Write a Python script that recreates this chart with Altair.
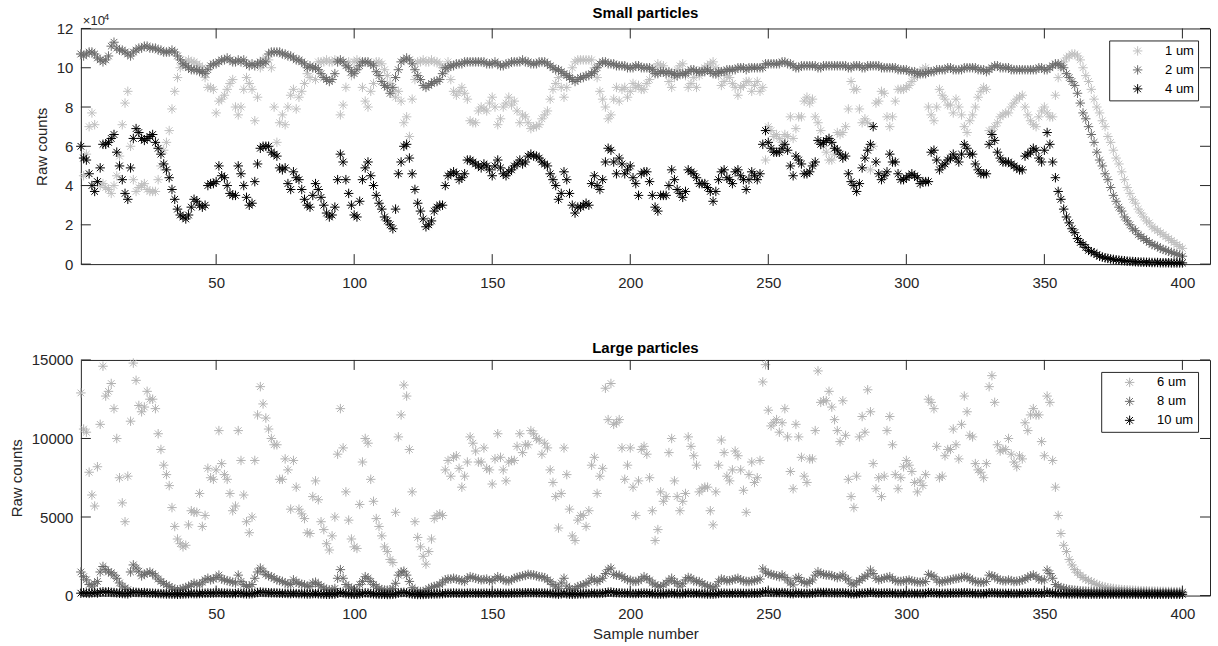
import altair as alt
import pandas as pd

FONT = "Liberation Sans"
AX = "#262626"
STAR = "M0,-1L0,1M-1,0L1,0M-0.7,-0.7L0.7,0.7M-0.7,0.7L0.7,-0.7"

# ---------------- data ----------------
SAMPLES = list(range(1, 401))

# Small particles, in thousands of counts
UM1 = [
    107, 45, 56, 70, 77, 71, 42, 40, 41, 39,
    38, 36, 40, 45, 55, 71, 82, 88, 60, 43,
    37, 39, 40, 41, 38, 37, 37, 37, 43, 50,
    58, 62, 68, 79, 88, 95, 100, 102, 103, 104,
    103, 103, 102, 101, 100, 95, 90, 90, 89, 77,
    83, 84, 86, 89, 92, 94, 80, 76, 80, 89,
    95, 92, 89, 73, 85, 100, 104, 105, 104, 100,
    80, 62, 72, 76, 71, 80, 86, 89, 79, 85,
    88, 92, 97, 95, 100, 94, 103, 103, 103, 104,
    103, 103, 104, 103, 76, 81, 90, 103, 96, 103,
    104, 103, 90, 83, 80, 88, 92, 103, 103, 102,
    99, 96, 92, 88, 85, 88, 83, 72, 75, 65,
    84, 94, 103, 103, 104, 103, 103, 104, 103, 103,
    102, 100, 98, 103, 94, 88, 86, 88, 90, 87,
    84, 73, 72, 72, 78, 80, 79, 78, 82, 85,
    80, 71, 74, 80, 82, 85, 81, 83, 78, 72,
    76, 75, 72, 69, 70, 70, 71, 74, 76, 78,
    84, 89, 92, 95, 90, 85, 90, 96, 100, 103,
    104, 104, 104, 104, 104, 104, 100, 95, 88, 84,
    80, 74, 76, 84, 90, 83, 89, 90, 85, 88,
    92, 90, 91, 89, 89, 92, 94, 98, 100, 102,
    101, 101, 98, 93, 90, 95, 99, 101, 102, 96,
    90, 92, 95, 90, 96, 99, 100, 101, 102, 103,
    100, 96, 91, 93, 96, 95, 92, 90, 86, 90,
    91, 93, 93, 88, 91, 93, 88, 90, 53, 70,
    68, 65, 66, 64, 62, 66, 65, 75, 64, 69,
    75, 75, 83, 85, 82, 84, 75, 72, 68, 60,
    57, 53, 53, 56, 67, 66, 67, 70, 79, 93,
    89, 89, 79, 72, 74, 72, 48, 60, 82, 83,
    88, 87, 75, 70, 75, 83, 89, 89, 89, 90,
    91, 93, 95, 96, 98, 99, 100, 80, 76, 73,
    80, 89, 86, 84, 81, 81, 77, 84, 80, 76,
    70, 67, 73, 76, 80, 85, 88, 90, 89, 68,
    68, 70, 72, 75, 76, 77, 77, 80, 82, 84,
    85, 86, 80, 76, 73, 71, 70, 75, 78, 80,
    77, 75, 75, 86, 95, 100, 103, 105, 106, 107,
    107, 106, 104, 100, 96, 93, 89, 84, 80, 77,
    73, 70, 65, 62, 58, 54, 51, 47, 43, 39,
    36, 33, 31, 28, 26, 24, 22, 21, 19, 18,
    17, 16, 15, 14, 13, 12, 11, 10, 9, 8,
]

UM2 = [
    107, 106, 107, 108, 108, 107, 105, 104, 103, 104,
    106, 111, 113, 110, 109, 109, 108, 107, 106, 108,
    109, 110, 110, 111, 111, 110, 110, 110, 109, 109,
    108, 108, 108, 109, 108, 106, 104, 102, 101, 100,
    99, 99, 99, 98, 98, 97, 99, 101, 102, 102,
    103, 104, 104, 105, 104, 103, 103, 104, 103, 104,
    102, 101, 102, 101, 102, 103, 102, 103, 107, 108,
    108, 108, 108, 107, 107, 106, 106, 105, 104, 104,
    103, 102, 100, 101, 100, 100, 99, 97, 95, 94,
    93, 94, 97, 103, 104, 103, 101, 100, 98, 97,
    99, 101, 103, 103, 103, 102, 101, 98, 96, 93,
    91, 90, 87, 90, 95, 99, 103, 104, 105, 104,
    102, 99, 96, 94, 91, 90, 91, 92, 93, 93,
    94, 97, 100, 100, 101, 101, 102, 102, 102, 103,
    103, 103, 103, 103, 103, 103, 103, 102, 102, 102,
    103, 102, 101, 101, 102, 102, 103, 103, 103, 103,
    104, 103, 103, 102, 102, 102, 103, 103, 103, 102,
    101, 100, 99, 99, 98, 97, 96, 95, 94, 93,
    94, 95, 95, 96, 96, 97, 98, 100, 102, 103,
    103, 102, 102, 102, 101, 101, 101, 101, 100, 100,
    100, 101, 101, 100, 100, 100, 100, 99, 97, 97,
    98, 98, 97, 98, 97, 97, 96, 97, 97, 97,
    98, 99, 99, 98, 98, 98, 98, 99, 98, 97,
    97, 98, 98, 98, 99, 99, 99, 99, 100, 100,
    100, 99, 100, 100, 100, 100, 100, 100, 102, 102,
    102, 102, 102, 102, 103, 103, 102, 102, 101, 100,
    100, 101, 101, 101, 101, 101, 101, 100, 100, 101,
    101, 101, 101, 101, 101, 101, 101, 101, 100, 100,
    101, 101, 101, 100, 100, 101, 101, 101, 101, 101,
    100, 100, 100, 100, 100, 100, 99, 99, 99, 99,
    98, 98, 98, 97, 97, 97, 97, 98, 98, 98,
    99, 99, 99, 99, 100, 100, 99, 99, 99, 99,
    100, 100, 100, 100, 100, 99, 99, 99, 98, 99,
    100, 101, 101, 100, 100, 100, 100, 99, 99, 99,
    99, 99, 99, 99, 99, 99, 99, 100, 100, 99,
    99, 100, 101, 102, 102, 101, 100, 97, 95, 93,
    91, 87, 82, 77, 74, 70, 66, 62, 57, 53,
    50, 46, 43, 39, 35, 32, 29, 27, 24, 22,
    20, 18, 17, 15, 14, 13, 12, 11, 10, 9.5,
    9, 8, 7.5, 7, 6.5, 6, 5.5, 5, 4.5, 4,
]

UM4 = [
    60, 54, 53, 46, 40, 37, 42, 49, 61, 61,
    62, 64, 66, 57, 50, 43, 36, 33, 49, 64,
    69, 67, 64, 63, 64, 65, 66, 62, 59, 56,
    51, 48, 44, 38, 33, 28, 25, 24, 23, 25,
    29, 33, 32, 30, 29, 30, 40, 41, 41, 42,
    50, 45, 44, 40, 36, 35, 35, 50, 46, 40,
    34, 30, 31, 42, 51, 59, 60, 60, 60, 57,
    56, 55, 49, 48, 49, 41, 38, 47, 44, 43,
    38, 33, 30, 29, 35, 41, 38, 34, 30, 26,
    24, 25, 29, 43, 56, 52, 43, 36, 30, 25,
    24, 32, 43, 49, 52, 45, 40, 35, 31, 28,
    24, 22, 20, 18, 28, 46, 52, 60, 61, 54,
    46, 38, 31, 27, 23, 19, 20, 22, 27, 29,
    30, 30, 40, 45, 46, 47, 46, 43, 44, 46,
    53, 53, 52, 51, 50, 49, 51, 50, 48, 45,
    50, 53, 49, 46, 45, 47, 48, 50, 51, 53,
    51, 52, 55, 56, 55, 55, 54, 52, 51, 50,
    46, 43, 40, 33, 36, 47, 43, 36, 30, 26,
    29, 29, 30, 31, 30, 41, 45, 40, 38, 43,
    52, 59, 58, 52, 46, 54, 51, 46, 48, 50,
    44, 41, 35, 46, 47, 47, 42, 35, 29, 27,
    35, 35, 35, 40, 48, 43, 38, 36, 34, 37,
    48, 47, 46, 44, 41, 41, 41, 39, 37, 32,
    37, 43, 47, 48, 44, 43, 41, 47, 48, 45,
    43, 38, 43, 47, 45, 43, 46, 61, 68, 62,
    59, 57, 57, 57, 59, 61, 58, 50, 45, 55,
    53, 51, 46, 46, 47, 50, 52, 63, 61, 62,
    63, 64, 62, 59, 58, 56, 54, 55, 46, 42,
    40, 37, 41, 49, 54, 58, 61, 70, 52, 46,
    43, 45, 47, 56, 52, 52, 46, 43, 43, 44,
    45, 46, 45, 44, 41, 42, 42, 42, 57, 58,
    53, 48, 50, 51, 53, 54, 56, 54, 52, 56,
    61, 59, 56, 56, 51, 48, 46, 46, 46, 61,
    66, 63, 57, 54, 52, 52, 52, 51, 50, 49,
    48, 48, 55, 56, 57, 59, 58, 54, 52, 58,
    67, 61, 52, 44, 37, 33, 28, 24, 21, 18,
    16, 13, 11, 10, 8.5, 7, 6.3, 5.8, 4.8, 4,
    3.6, 3.2, 2.9, 2.6, 2.4, 2.2, 2.0, 1.8, 1.7, 1.5,
    1.4, 1.3, 1.2, 1.1, 1.0, 1.0, 0.9, 0.9, 0.8, 0.8,
    0.8, 0.7, 0.7, 0.7, 0.7, 0.6, 0.6, 0.6, 0.6, 0.6,
]

# Large particles, in counts
UM6 = [
    12900, 10600, 10400, 7850, 6400, 5700, 8200, 10900, 14600, 12700,
    13000, 13500, 11900, 10000, 7500, 5900, 4700, 7600, 11100, 14800,
    13700, 12100, 11700, 12000, 13000, 12500, 12500, 11900, 10300, 9300,
    8300, 7700, 7000, 5600, 4400, 3600, 3300, 3100, 3200, 4500,
    5400, 5300, 5300, 6500, 4400, 5100, 8100, 7500, 7400, 8000,
    10500, 8400, 7700, 7400, 6500, 5400, 5700, 10500, 8600, 6400,
    4700, 4000, 5000, 8600, 11500, 13300, 12200, 11300, 10600, 10000,
    9600, 9600, 7400, 7400, 8700, 8000, 5500, 8600, 6900, 5500,
    5200, 4900, 4000, 3950, 6300, 7300, 6100, 4700, 4200, 3300,
    2900, 3800, 5000, 9000, 11900, 9400, 6600, 4800, 3600, 3100,
    3000, 5800, 8500, 10000, 9700, 7400, 6000, 4900, 4400, 3800,
    3100, 2800, 2300, 2100, 5300, 10100, 11500, 13400, 12700, 9300,
    6600, 4700, 3700, 3100, 2500, 2000, 2800, 3600, 4900, 5100,
    5200, 5100, 8000, 8600, 7600, 8800, 8900, 8100, 6900, 7600,
    8500, 10100, 9700, 9200, 8500, 8500, 9400, 8100, 8000, 7100,
    8700, 10300, 8800, 8000, 7300, 8500, 8600, 8600, 9500, 10300,
    9100, 9600, 9600, 10500, 10300, 10000, 9900, 9000, 9700, 9400,
    8000, 7200, 6300, 4300, 6500, 9400, 7700, 5500, 3800, 3500,
    4800, 5100, 5100, 4400, 5400, 8300, 8800, 6500, 7600, 8100,
    13200, 11200, 13500, 10900, 11000, 11200, 9400, 7400, 8300, 9400,
    6900, 5100, 7300, 9300, 9500, 9000, 7500, 5400, 3500, 4200,
    6600, 6000, 6300, 9100, 10000, 7300, 6300, 5400, 6000, 6500,
    10100, 9500, 8900, 8300, 6600, 6800, 6900, 6900, 5400, 4500,
    6600, 8300, 9900, 9100, 7600, 7300, 8000, 9200, 8900, 8000,
    6700, 5300, 7700, 8500, 7200, 7500, 8600, 13600, 14700, 11800,
    10800, 11000, 11200, 10400, 11000, 11900, 10100, 7900, 6800, 10900,
    10100, 8800, 7600, 7200, 8700, 8700, 10500, 14300, 12300, 12400,
    12400, 13000, 12000, 11200, 10500, 9800, 12400, 10200, 7400, 6300,
    5600, 7600, 10100, 11400, 10400, 13100, 11700, 8400, 6800, 7500,
    6300, 7600, 10500, 11400, 9600, 7700, 6800, 7500, 8200, 8600,
    8300, 7900, 7200, 6600, 7300, 7000, 7700, 12500, 12300, 11900,
    9500, 7500, 7600, 8900, 9300, 9300, 10600, 9600, 8700, 10900,
    12700, 11700, 10200, 10100, 8400, 8000, 7850, 7500, 8400, 13300,
    14000, 12300, 9600, 9200, 9300, 9300, 10000, 9000, 8500, 8200,
    8900, 8700, 11000, 10500, 11500, 11900, 11500, 11500, 9800, 8900,
    12700, 12300, 8600, 6900, 5100, 3950, 3200, 2800, 2300, 1950,
    1650, 1450, 1300, 1150, 1050, 950, 880, 780, 700, 640,
    580, 540, 500, 470, 450, 420, 400, 380, 370, 360,
    350, 340, 330, 320, 310, 300, 300, 290, 290, 280,
    280, 270, 270, 260, 260, 260, 250, 250, 250, 240,
]

UM8 = [
    1500, 1200, 1000, 700, 600, 750, 900, 1500, 1850, 1650,
    1500, 1450, 1300, 1100, 800, 600, 480, 380, 1500, 1950,
    1750, 1550, 1250, 1350, 1450, 1500, 1400, 1250, 1050, 900,
    780, 680, 580, 480, 400, 360, 400, 450, 520, 580,
    680, 780, 720, 680, 850, 1000, 1100, 1000, 1050, 1150,
    1300, 1050, 1000, 950, 900, 850, 800, 1300, 900, 700,
    580, 600, 700, 1100, 1500, 1750, 1550, 1350, 1250, 1200,
    1100, 1000, 950, 900, 800, 750, 700, 1000, 850, 780,
    720, 680, 600, 580, 800, 850, 700, 600, 480, 400,
    360, 380, 450, 1100, 1650, 1100, 700, 550, 460, 400,
    360, 700, 900, 1200, 1100, 900, 700, 550, 450, 380,
    350, 340, 360, 450, 780, 1300, 1500, 1550, 1300, 900,
    500, 350, 260, 250, 260, 300, 450, 520, 580, 620,
    680, 850, 1000, 1050, 1050, 1100, 1050, 1000, 950, 900,
    1100, 1200, 1150, 1100, 1050, 1000, 1020, 1050, 950, 950,
    1050, 1200, 1100, 1000, 950, 930, 1000, 1100, 1150, 1200,
    1250, 1280, 1350, 1320, 1310, 1250, 1200, 1180, 1140, 1000,
    880, 700, 600, 460, 800, 1100, 600, 450, 360, 450,
    570, 620, 680, 760, 850, 1100, 980, 890, 1000, 1100,
    1400, 1650, 1750, 1350, 1300, 1300, 1200, 1100, 1000, 980,
    900, 900, 930, 1050, 1200, 1100, 990, 800, 680, 600,
    570, 670, 800, 950, 1100, 880, 780, 600, 750, 990,
    1150, 1100, 930, 900, 890, 750, 680, 600, 570, 470,
    600, 880, 1050, 1000, 930, 950, 990, 1050, 1100, 1000,
    930, 900, 890, 930, 950, 990, 1050, 1700, 1500, 1400,
    1350, 1300, 1250, 1200, 1310, 1150, 990, 800, 680, 1100,
    1150, 900, 850, 780, 880, 990, 1300, 1520, 1400, 1350,
    1310, 1300, 1270, 1200, 1140, 1200, 1310, 1100, 990, 750,
    680, 850, 950, 1100, 1200, 1310, 1620, 1400, 1100, 1000,
    1050, 1100, 1150, 1200, 1050, 950, 900, 900, 930, 950,
    990, 930, 890, 860, 845, 870, 890, 1350, 1300, 1200,
    1000, 850, 880, 930, 960, 990, 1050, 1080, 1100, 1150,
    1200, 1150, 1100, 950, 900, 850, 845, 845, 900, 1300,
    1250, 1200, 1050, 990, 950, 930, 990, 950, 890, 910,
    930, 990, 1050, 1150, 1250, 1310, 1200, 1050, 990, 1000,
    1620, 1400, 1100, 700, 570, 500, 460, 420, 380, 360,
    340, 320, 300, 290, 280, 270, 265, 260, 255, 250,
    245, 240, 240, 235, 230, 230, 225, 225, 220, 220,
    215, 215, 210, 210, 210, 205, 205, 205, 200, 200,
    200, 200, 195, 195, 195, 190, 190, 190, 190, 190,
]

UM10 = [
    150, 180, 160, 140, 170, 190, 160, 210, 240, 220,
    230, 200, 190, 170, 150, 130, 120, 110, 170, 220,
    200, 190, 180, 190, 170, 160, 150, 140, 130, 120,
    110, 100, 100, 90, 90, 80, 90, 100, 110, 120,
    130, 120, 120, 130, 140, 150, 160, 150, 160, 170,
    180, 160, 150, 150, 140, 130, 130, 170, 140, 120,
    110, 110, 120, 150, 190, 220, 200, 190, 180, 170,
    170, 160, 150, 140, 140, 130, 120, 140, 130, 120,
    120, 110, 100, 100, 120, 130, 110, 100, 90, 80,
    80, 90, 100, 150, 200, 160, 120, 100, 90, 80,
    80, 110, 140, 170, 160, 130, 110, 100, 90, 80,
    80, 70, 70, 80, 110, 160, 190, 200, 170, 130,
    100, 80, 70, 70, 70, 80, 90, 100, 100, 110,
    110, 120, 140, 150, 150, 160, 150, 150, 140, 140,
    150, 160, 160, 150, 150, 140, 150, 150, 140, 140,
    150, 160, 150, 140, 140, 140, 150, 160, 160, 170,
    170, 180, 180, 180, 180, 170, 170, 160, 160, 150,
    140, 120, 110, 90, 110, 140, 110, 90, 80, 90,
    100, 110, 110, 120, 130, 150, 140, 130, 140, 150,
    180, 210, 220, 190, 180, 170, 160, 150, 150, 140,
    130, 130, 140, 150, 160, 150, 140, 120, 110, 100,
    100, 110, 120, 140, 150, 130, 120, 110, 120, 140,
    160, 150, 140, 140, 130, 120, 110, 100, 100, 90,
    110, 130, 150, 150, 140, 140, 140, 150, 150, 140,
    140, 130, 140, 150, 150, 150, 160, 220, 240, 210,
    200, 190, 190, 180, 190, 180, 160, 130, 120, 160,
    150, 140, 130, 130, 140, 150, 170, 200, 190, 190,
    190, 180, 180, 170, 170, 170, 180, 160, 140, 120,
    110, 120, 140, 150, 160, 180, 210, 190, 160, 150,
    150, 160, 160, 170, 150, 140, 130, 130, 140, 140,
    140, 140, 130, 130, 130, 130, 140, 190, 180, 170,
    150, 130, 140, 140, 150, 150, 160, 160, 160, 170,
    180, 170, 160, 140, 130, 130, 120, 120, 130, 180,
    180, 170, 150, 140, 140, 140, 140, 140, 130, 130,
    140, 140, 150, 160, 170, 180, 170, 150, 140, 150,
    210, 180, 150, 130, 120, 110, 110, 100, 100, 100,
    110, 100, 100, 100, 90, 90, 90, 90, 90, 90,
    90, 90, 90, 90, 90, 90, 90, 90, 90, 90,
    90, 90, 90, 80, 80, 80, 80, 80, 80, 80,
    80, 80, 80, 80, 80, 80, 80, 80, 80, 80,
]

X_TICKS = [50, 100, 150, 200, 250, 300, 350, 400]
TOP_Y_TICKS = [0, 20000, 40000, 60000, 80000, 100000, 120000]
BOT_Y_TICKS = [0, 5000, 10000, 15000]

SMALL_NAMES = ["1 um", "2 um", "4 um"]
LARGE_NAMES = ["6 um", "8 um", "10 um"]
SMALL_COLORS = ["#c0c0c0", "#6b6b6b", "#000000"]
LARGE_COLORS = ["#b2b2b2", "#6b6b6b", "#000000"]

for nm, arr in [("UM1", UM1), ("UM2", UM2), ("UM4", UM4), ("UM6", UM6), ("UM8", UM8), ("UM10", UM10)]:
    if len(arr) != 400:
        raise ValueError(f"{nm} has {len(arr)} values")

top_df = pd.DataFrame({
    "sample": SAMPLES * 3,
    "counts": [v * 1000 for v in UM1 + UM2 + UM4],
    "series": [SMALL_NAMES[0]] * 400 + [SMALL_NAMES[1]] * 400 + [SMALL_NAMES[2]] * 400,
    "ord": [0] * 400 + [1] * 400 + [2] * 400,
})
bot_df = pd.DataFrame({
    "sample": SAMPLES * 3,
    "counts": UM6 + UM8 + UM10,
    "series": [LARGE_NAMES[0]] * 400 + [LARGE_NAMES[1]] * 400 + [LARGE_NAMES[2]] * 400,
    "ord": [0] * 400 + [1] * 400 + [2] * 400,
})

W, H = 1131, 236
TICK = 10
xscale = alt.Scale(domain=[1, 410], nice=False, zero=False)


def panel(df, names, colors, ymax, yticks, title, title_offset, label_expr, xtitle, show_exp):
    yscale = alt.Scale(domain=[0, ymax], nice=False, zero=True)
    x_axis_kwargs = dict(values=X_TICKS, ticks=False, domain=False, grid=False,
                         labelPadding=11, labelFontSize=15, labelFont=FONT, labelColor=AX)
    if xtitle:
        x_axis = alt.Axis(title=xtitle, titleFontSize=15, titleFont=FONT, titleFontWeight="normal",
                          titleColor=AX, titlePadding=5, **x_axis_kwargs)
    else:
        x_axis = alt.Axis(title=None, **x_axis_kwargs)
    y_axis_kwargs = dict(values=yticks, ticks=False, domain=False, grid=False, labelPadding=8,
                         labelFontSize=15, labelFont=FONT, labelColor=AX, format="d",
                         title="Raw counts", titleFontSize=15, titleFont=FONT,
                         titleFontWeight="normal", titleColor=AX, titlePadding=7)
    if label_expr:
        y_axis_kwargs["labelExpr"] = label_expr
    y_axis = alt.Axis(**y_axis_kwargs)
    pts = alt.Chart(df).mark_point(shape=STAR, filled=False, size=90, strokeWidth=1, opacity=1).encode(
        x=alt.X("sample:Q", scale=xscale, axis=x_axis),
        y=alt.Y("counts:Q", scale=yscale, axis=y_axis),
        color=alt.Color("series:N", scale=alt.Scale(domain=names, range=colors),
                        legend=alt.Legend(title=None, orient="top-right", offset=12, padding=4,
                                          strokeColor=AX, fillColor="white", cornerRadius=0,
                                          labelFontSize=13, labelFont=FONT, labelColor="black",
                                          symbolType=STAR, symbolSize=90, symbolStrokeWidth=1,
                                          symbolOffset=18, labelOffset=21, rowPadding=4)),
        order=alt.Order("ord:Q"),
    )
    xt = alt.Chart(pd.DataFrame({"sample": X_TICKS}))
    yt = alt.Chart(pd.DataFrame({"counts": yticks}))
    xb = xt.mark_rule(color=AX, strokeWidth=1).encode(
        x=alt.X("sample:Q", scale=xscale, axis=x_axis), y=alt.value(H), y2=alt.value(H - TICK))
    xtp = xt.mark_rule(color=AX, strokeWidth=1).encode(
        x=alt.X("sample:Q", scale=xscale, axis=x_axis), y=alt.value(0), y2=alt.value(TICK))
    yl = yt.mark_rule(color=AX, strokeWidth=1).encode(
        y=alt.Y("counts:Q", scale=yscale, axis=y_axis), x=alt.value(0), x2=alt.value(TICK))
    yr = yt.mark_rule(color=AX, strokeWidth=1).encode(
        y=alt.Y("counts:Q", scale=yscale, axis=y_axis), x=alt.value(W), x2=alt.value(W - TICK))
    layers = [pts, xb, xtp, yl, yr]
    if show_exp:
        one = alt.Chart(pd.DataFrame({"a": [0]}))
        e1 = one.mark_text(text="×10", align="left", baseline="alphabetic", fontSize=13,
                           font=FONT, color=AX).encode(x=alt.value(2), y=alt.value(-3))
        e2 = one.mark_text(text="4", align="left", baseline="alphabetic", fontSize=10,
                           font=FONT, color=AX).encode(x=alt.value(23), y=alt.value(-8))
        layers += [e1, e2]
    return alt.layer(*layers).properties(
        width=W, height=H,
        title=alt.TitleParams(text=title, fontSize=15, fontWeight="bold", font=FONT, color="black",
                              offset=title_offset, frame="group", anchor="middle"),
    )


top = panel(top_df, SMALL_NAMES, SMALL_COLORS, 120000, TOP_Y_TICKS, "Small particles", -9,
            "datum.value / 10000", None, True)
bot = panel(bot_df, LARGE_NAMES, LARGE_COLORS, 15000, BOT_Y_TICKS, "Large particles", -3,
            None, "Sample number", False)

chart = alt.vconcat(top, bot, spacing=49).resolve_scale(color="independent").resolve_legend(
    color="independent"
).properties(
    padding={"left": 8, "top": 5, "right": 7, "bottom": 2},
    background="white",
).configure_view(stroke=AX, strokeWidth=1)

chart.save("out.html", embed_options={"renderer": "svg", "actions": False})
